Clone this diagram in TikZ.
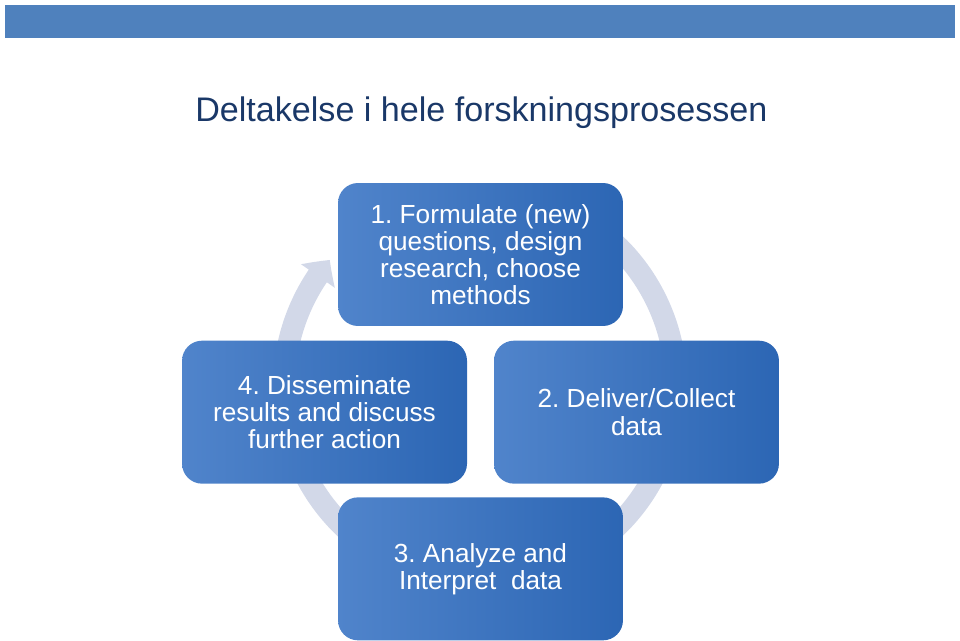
\documentclass[tikz,border=0pt]{standalone}
\usepackage{fontspec}
\setmainfont{Liberation Sans}
\usepackage{tikz}
\usetikzlibrary{calc, arrows.meta, bending, positioning, backgrounds}
\definecolor{BarBlue}{RGB}{79,129,189}
\definecolor{TitleBlue}{RGB}{26,56,104}
\definecolor{BoxLight}{RGB}{80,132,203}
\definecolor{BoxDark}{RGB}{44,102,180}
\definecolor{CycleGray}{RGB}{210,216,232}
\frenchspacing

\begin{document}
\begin{tikzpicture}[
    x=0.02cm, y=0.02cm,
    stage/.style={rectangle, rounded corners=0.4cm, left color=BoxLight, right color=BoxDark, minimum width=5.7cm, minimum height=2.86cm, align=center, text=white, font=\fontsize{14.9}{15.5}\selectfont},
    cycle/.style={draw=CycleGray, line width=0.44cm, -{Triangle[width=0.8cm, length=0.4cm, bend]}}
  ]
    \useasboundingbox (0,0) rectangle (960,640);
    \fill[BarBlue] (5,602) rectangle (955,635);
    \node[anchor=base west, inner sep=0pt, text=TitleBlue, font=\fontsize{19.4}{23}\selectfont] (title) at (195,518) {Deltakelse i hele forskningsprosessen};

    \node[stage] (formulate) at (480.5,385.5) {1. Formulate (new)\\questions, design\\research, choose\\methods};
    \node[stage, below=0.28cm of formulate, xshift=-3.12cm] (disseminate) {4. Disseminate\\results and discuss\\further action};
    \node[stage, below=0.28cm of formulate, xshift=3.12cm] (collect) {2. Deliver/Collect\\data};
    \node[stage, below=0.26cm of disseminate, xshift=3.12cm] (analyze) {3. Analyze and\\Interpret~ data};

    % cycle behind the boxes
    \coordinate (mid) at (480,254);
    \begin{scope}[on background layer]
      \draw[cycle] ($(mid)+(190:196)$) arc[start angle=190, end angle=140, radius=196];
      \draw[cycle] ($(mid)+(60:196)$) arc[start angle=60, end angle=-10, radius=196];
      \draw[cycle] ($(mid)+(-20:196)$) arc[start angle=-20, end angle=-70, radius=196];
      \draw[cycle] ($(mid)+(-110:196)$) arc[start angle=-110, end angle=-165, radius=196];
    \end{scope}
  \end{tikzpicture}
\end{document}
